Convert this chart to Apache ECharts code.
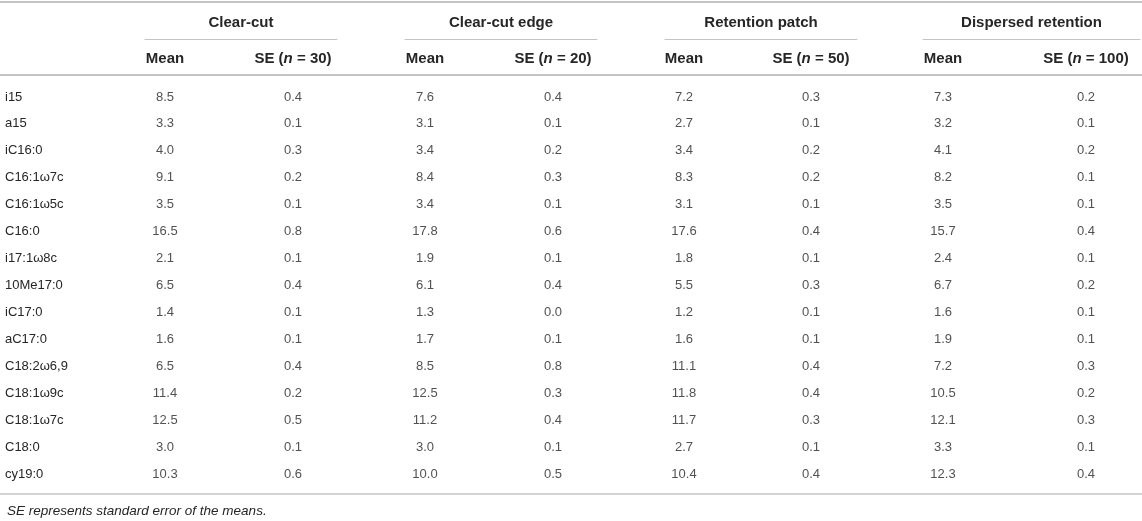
<!DOCTYPE html>
<html>
<head>
<meta charset="utf-8">
<script src="https://cdn.jsdelivr.net/npm/echarts@6/dist/echarts.min.js"></script>
<style>
html, body { margin: 0; padding: 0; background: #fff; }
#main { width: 1142px; height: 521px; }
</style>
</head>
<body>
<div id="main"></div>
<script>
var rows = ['i15', 'a15', 'iC16:0', 'C16:1ω7c', 'C16:1ω5c', 'C16:0', 'i17:1ω8c', '10Me17:0',
    'iC17:0', 'aC17:0', 'C18:2ω6,9', 'C18:1ω9c', 'C18:1ω7c', 'C18:0', 'cy19:0'];
var groups = ['Clear-cut', 'Clear-cut edge', 'Retention patch', 'Dispersed retention'];
var sampleSizes = [30, 20, 50, 100];

var clearCutMean = [8.5, 3.3, 4.0, 9.1, 3.5, 16.5, 2.1, 6.5, 1.4, 1.6, 6.5, 11.4, 12.5, 3.0, 10.3];
var clearCutSE = [0.4, 0.1, 0.3, 0.2, 0.1, 0.8, 0.1, 0.4, 0.1, 0.1, 0.4, 0.2, 0.5, 0.1, 0.6];
var edgeMean = [7.6, 3.1, 3.4, 8.4, 3.4, 17.8, 1.9, 6.1, 1.3, 1.7, 8.5, 12.5, 11.2, 3.0, 10.0];
var edgeSE = [0.4, 0.1, 0.2, 0.3, 0.1, 0.6, 0.1, 0.4, 0.0, 0.1, 0.8, 0.3, 0.4, 0.1, 0.5];
var patchMean = [7.2, 2.7, 3.4, 8.3, 3.1, 17.6, 1.8, 5.5, 1.2, 1.6, 11.1, 11.8, 11.7, 2.7, 10.4];
var patchSE = [0.3, 0.1, 0.2, 0.2, 0.1, 0.4, 0.1, 0.3, 0.1, 0.1, 0.4, 0.4, 0.3, 0.1, 0.4];
var dispMean = [7.3, 3.2, 4.1, 8.2, 3.5, 15.7, 2.4, 6.7, 1.6, 1.9, 7.2, 10.5, 12.1, 3.3, 12.3];
var dispSE = [0.2, 0.1, 0.2, 0.1, 0.1, 0.4, 0.1, 0.2, 0.1, 0.1, 0.3, 0.2, 0.3, 0.1, 0.4];

var means = [clearCutMean, edgeMean, patchMean, dispMean];
var ses = [clearCutSE, edgeSE, patchSE, dispSE];

var footnote = 'SE represents standard error of the means.';

// layout (pixels)
var FONT = '"Liberation Sans", Arial, Helvetica, sans-serif';
var TEXT = '#262626';
var RULE = '#c4c4c4';
var bodyTop = 83.5, bodyHeight = 404;
var headerRule = 75, topRule = 2, groupRule = 39;
var valueGrids = [[101, 256], [361, 256], [620.5, 254], [871.5, 286]];   // left, width
var ruleGrids = [[145, 192], [405, 192], [665, 192], [923, 217]];          // under group titles

var myChart = echarts.init(document.getElementById('main'));

function ruleAxis(gridIndex, position, offset, width) {
    return {
        gridIndex: gridIndex, type: 'value', position: position, offset: offset, min: 0, max: 1,
        axisLine: { show: true, onZero: false, lineStyle: { color: RULE, width: width } },
        axisTick: { show: false }, axisLabel: { show: false }, splitLine: { show: false }
    };
}

var grid = [{ left: 0, right: 0, top: bodyTop, height: bodyHeight, outerBoundsMode: 'none' }];
var xAxis = [
    ruleAxis(0, 'top', bodyTop - headerRule, 2),
    ruleAxis(0, 'top', bodyTop - topRule, 2),
    ruleAxis(0, 'bottom', 6, 1.5)
];
var yAxis = [{
    gridIndex: 0, type: 'category', data: rows, inverse: true,
    axisLine: { show: false }, axisTick: { show: false }, splitLine: { show: false },
    axisLabel: { inside: true, margin: 5, color: TEXT, fontSize: 13, fontFamily: FONT }
}];
var series = [];

groups.forEach(function (name, g) {
    var vg = grid.length;
    grid.push({ left: valueGrids[g][0], width: valueGrids[g][1], top: bodyTop, height: bodyHeight,
        outerBoundsMode: 'none' });
    xAxis.push({
        gridIndex: vg, type: 'category', position: 'top', offset: bodyTop - headerRule,
        data: ['Mean', 'SE (n = ' + sampleSizes[g] + ')'],
        axisLine: { show: false }, axisTick: { show: false }, splitLine: { show: false },
        axisLabel: {
            interval: 0, hideOverlap: false,
            margin: 9, color: TEXT, fontSize: 15, fontWeight: 'bold', fontFamily: FONT,
            formatter: function (v) { return v.replace('(n', '({it|n}'); },
            rich: { it: { fontStyle: 'italic', fontWeight: 'bold', fontSize: 15, color: TEXT, fontFamily: FONT } }
        }
    });
    yAxis.push({ gridIndex: vg, type: 'category', data: rows, inverse: true, show: false });

    var data = [];
    rows.forEach(function (r, i) {
        data.push([0, i, means[g][i]]);
        data.push([1, i, ses[g][i]]);
    });
    series.push({
        type: 'scatter', name: name,
        xAxisIndex: xAxis.length - 1, yAxisIndex: yAxis.length - 1,
        symbolSize: 1, itemStyle: { color: 'rgba(0,0,0,0)' },
        silent: true,
        label: {
            show: true, position: 'inside', color: TEXT, fontSize: 13, fontFamily: FONT,
            formatter: function (p) { return p.value[2].toFixed(1); }
        },
        data: data
    });

    // group title with its rule
    var rg = grid.length;
    grid.push({ left: ruleGrids[g][0], width: ruleGrids[g][1], top: groupRule, height: 10,
        outerBoundsMode: 'none' });
    var ax = ruleAxis(rg, 'top', 0, 1);
    ax.name = name;
    ax.nameLocation = 'middle';
    ax.nameGap = 9;
    ax.nameTextStyle = { color: TEXT, fontSize: 15, fontWeight: 'bold', fontFamily: FONT };
    xAxis.push(ax);
    yAxis.push({ gridIndex: rg, type: 'value', show: false });
});

myChart.setOption({
    animation: false,
    backgroundColor: '#fff',
    title: {
        text: footnote, left: 2, top: 499,
        textStyle: { color: TEXT, fontSize: 13.5, fontStyle: 'italic', fontWeight: 'normal', fontFamily: FONT }
    },
    grid: grid,
    xAxis: xAxis,
    yAxis: yAxis,
    series: series
});
</script>
</body>
</html>
